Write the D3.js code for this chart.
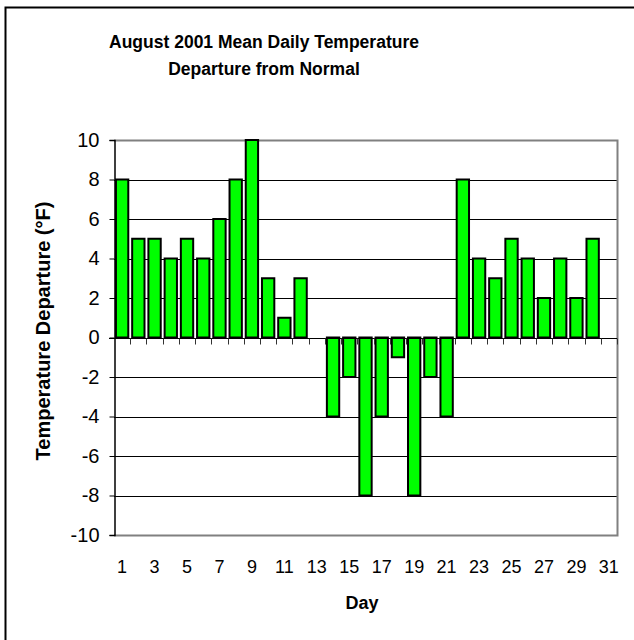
<!DOCTYPE html>
<html>
<head>
<meta charset="utf-8">
<script src="https://cdn.jsdelivr.net/npm/d3@7"></script>
<style>
  body { margin: 0; background: #fff; }
  text { font-family: "Liberation Sans", Arial, sans-serif; fill: #000; }
</style>
</head>
<body>
<svg width="634" height="640"></svg>
<script>
// August 2001 daily departures (°F); days 13 and 31 have no bar
var days = d3.range(1, 32);
var departures = [8, 5, 5, 4, 5, 4, 6, 8, 10, 3, 1, 3, 0, -4, -2, -8, -4, -1, -8, -2, -4, 8, 4, 3, 5, 4, 2, 4, 2, 5, null];
var xTickDays = [1, 3, 5, 7, 9, 11, 13, 15, 17, 19, 21, 23, 25, 27, 29, 31];
var yTicks = [-10, -8, -6, -4, -2, 0, 2, 4, 6, 8, 10];

var data = days.map(function (d, i) { return { day: d, value: departures[i] }; });

var svg = d3.select("svg");

// chart area border (only top/left edges fall inside the picture)
svg.append("rect").attr("x", 5.5).attr("y", 7.5).attr("width", 700).attr("height", 700)
    .attr("fill", "none").attr("stroke", "#000").attr("stroke-width", 2);

xPos = d3.scaleBand().domain(days).range([114, 617]);
yScale = d3.scaleLinear().domain([-10, 10]).range([535, 140]);

// gridlines
svg.append("g").selectAll("line.grid").data(yTicks.filter(function (d) { return d > -10 && d < 10 && d != 0; }))
    .enter().append("line").attr("class", "grid")
    .attr("x1", 114).attr("x2", 617)
    .attr("y1", function (d) { return Math.round(yScale(d)) + 0.5; })
    .attr("y2", function (d) { return Math.round(yScale(d)) + 0.5; })
    .attr("stroke", "#000").attr("stroke-width", 1);

// plot area border (top, right, bottom)
svg.append("path")
    .attr("d", "M114," + (yScale(10) + 0.5) + "H617.5V" + (yScale(-10) + 0.5) + "H114")
    .attr("fill", "none").attr("stroke", "#808080").attr("stroke-width", 2);

// bars
svg.selectAll("rect.bar").data(data.filter(function (d) { return d.value; })).enter().append("rect")
    .attr("class", "bar")
    .attr("x", function (d) { return xPos(d.day) + xPos.bandwidth() * 0.12; })
    .attr("width", xPos.bandwidth() * 0.76)
    .attr("y", function (d) { return yScale(Math.max(0, d.value)); })
    .attr("height", function (d) { return Math.abs(yScale(d.value) - yScale(0)); })
    .attr("fill", "#00ff00").attr("stroke", "#000").attr("stroke-width", 2);

// x axis on zero line, ticks at category boundaries
var y0 = Math.round(yScale(0)) + 0.5;
svg.append("line").attr("x1", 109).attr("x2", 617).attr("y1", y0).attr("y2", y0)
    .attr("stroke", "#000").attr("stroke-width", 1);
svg.append("g").selectAll("line.xtick").data(days).enter().append("line").attr("class", "xtick")
    .attr("x1", function (d) { return Math.round(xPos(d) + xPos.bandwidth()) + 0.5; })
    .attr("x2", function (d) { return Math.round(xPos(d) + xPos.bandwidth()) + 0.5; })
    .attr("y1", y0).attr("y2", y0 + 6)
    .attr("stroke", "#333").attr("stroke-width", 1);

// y axis
var yAxis = d3.axisLeft(yScale).tickValues(yTicks).tickSize(5).tickPadding(10)
    .tickFormat(function (d) { return String(d); });
var yAxisG = svg.append("g").attr("id", "yAxisG").attr("transform", "translate(114.5,0)").call(yAxis);
yAxisG.select(".domain").attr("stroke", "#000").attr("stroke-width", 1.5);
yAxisG.selectAll(".tick line").attr("stroke", "#000");
yAxisG.selectAll("text").style("font-size", "20px").attr("fill", "#000");

// x tick labels (odd days)
svg.append("g").selectAll("text.xlab").data(xTickDays).enter().append("text").attr("class", "xlab")
    .attr("x", function (d) { return xPos(d) + xPos.bandwidth() / 2; })
    .attr("y", 573)
    .attr("text-anchor", "middle").style("font-size", "18px")
    .text(function (d) { return d; });

// titles
svg.append("text").attr("x", 264).attr("y", 48).attr("text-anchor", "middle")
    .style("font-size", "17.5px").style("font-weight", "bold")
    .text("August 2001 Mean Daily Temperature");
svg.append("text").attr("x", 264).attr("y", 75).attr("text-anchor", "middle")
    .style("font-size", "17.5px").style("font-weight", "bold")
    .text("Departure from Normal");
svg.append("text").attr("x", 362).attr("y", 609).attr("text-anchor", "middle")
    .style("font-size", "18px").style("font-weight", "bold").text("Day");
svg.append("text").attr("transform", "translate(50,331) rotate(-90)").attr("text-anchor", "middle")
    .style("font-size", "20px").style("font-weight", "bold").text("Temperature Departure (°F)");
</script>
</body>
</html>
